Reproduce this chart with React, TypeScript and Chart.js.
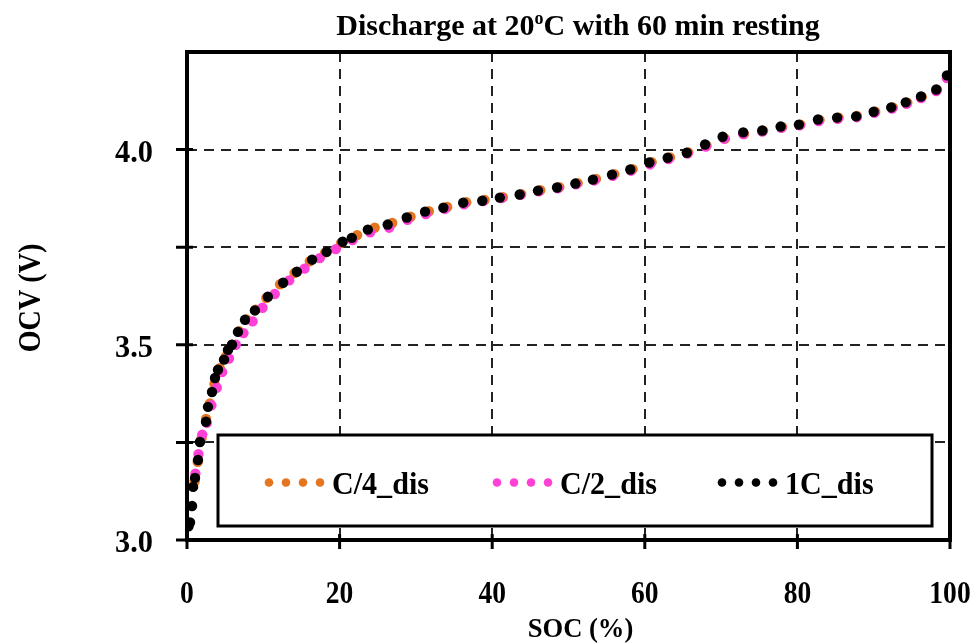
import React, { useEffect, useRef } from "react";
import { Chart, registerables } from "chart.js";

Chart.register(...registerables);

// ---------- data ----------
const socC4 = [1.0, 1.4, 1.9, 2.5, 3.0, 3.6, 4.3, 5.1, 5.9, 6.8, 7.8, 9.0, 10.4, 12.2, 14.1, 16.1, 18.1, 20.2, 22.3, 24.6, 26.9, 29.3, 31.7, 34.1, 36.6, 39.0, 41.4, 43.8, 46.3, 48.8, 51.2, 53.6, 56.0, 58.4, 60.9, 63.3, 65.7, 68.1, 70.5, 73.0, 75.5, 78.0, 80.4, 82.9, 85.4, 87.8, 90.2, 92.5, 94.4, 96.3, 98.3, 99.7];
const ocvC4 = [3.15, 3.2, 3.26, 3.31, 3.35, 3.4, 3.44, 3.47, 3.5, 3.535, 3.565, 3.59, 3.62, 3.655, 3.684, 3.714, 3.736, 3.761, 3.781, 3.8, 3.812, 3.828, 3.842, 3.853, 3.865, 3.871, 3.878, 3.886, 3.896, 3.904, 3.914, 3.925, 3.937, 3.95, 3.968, 3.98, 3.993, 4.01, 4.028, 4.04, 4.048, 4.058, 4.064, 4.076, 4.082, 4.086, 4.097, 4.108, 4.12, 4.135, 4.153, 4.185];

const socC2 = [1.1, 1.5, 2.0, 2.6, 3.2, 3.9, 4.6, 5.5, 6.4, 7.4, 8.6, 9.9, 11.5, 13.4, 15.4, 17.4, 19.5, 21.7, 24.0, 26.5, 28.9, 31.3, 33.8, 36.3, 38.8, 41.2, 43.7, 46.1, 48.6, 51.0, 53.4, 55.8, 58.2, 60.7, 63.1, 65.6, 68.0, 70.4, 72.9, 75.4, 77.9, 80.3, 82.8, 85.3, 87.8, 90.1, 92.4, 94.3, 96.2, 98.2, 99.6];
const ocvC2 = [3.17, 3.22, 3.27, 3.3, 3.345, 3.39, 3.43, 3.465, 3.5, 3.53, 3.56, 3.595, 3.63, 3.665, 3.695, 3.722, 3.745, 3.768, 3.788, 3.8, 3.82, 3.835, 3.848, 3.86, 3.868, 3.876, 3.884, 3.893, 3.901, 3.911, 3.921, 3.933, 3.946, 3.962, 3.976, 3.99, 4.008, 4.028, 4.04, 4.046, 4.056, 4.062, 4.073, 4.079, 4.083, 4.094, 4.105, 4.117, 4.132, 4.15, 4.183];

const soc1C = [0.2, 0.4, 0.66, 0.8, 1.05, 1.44, 1.7, 2.49, 2.75, 3.28, 3.67, 4.06, 4.85, 5.37, 5.9, 6.68, 7.6, 8.9, 10.6, 12.6, 14.4, 16.4, 18.3, 20.4, 21.6, 23.7, 26.3, 28.8, 31.2, 33.6, 36.2, 38.7, 41.0, 43.6, 46.0, 48.5, 50.9, 53.2, 55.7, 58.1, 60.6, 63.0, 65.5, 67.9, 70.2, 72.9, 75.4, 77.8, 80.2, 82.7, 85.2, 87.7, 90.0, 92.3, 94.2, 96.2, 98.2, 99.6];
const ocv1C = [3.035, 3.045, 3.087, 3.136, 3.159, 3.205, 3.251, 3.303, 3.341, 3.379, 3.415, 3.436, 3.462, 3.487, 3.5, 3.533, 3.564, 3.588, 3.623, 3.659, 3.687, 3.718, 3.738, 3.764, 3.774, 3.795, 3.808, 3.826, 3.841, 3.851, 3.864, 3.869, 3.877, 3.885, 3.895, 3.903, 3.913, 3.923, 3.936, 3.949, 3.967, 3.979, 3.992, 4.013, 4.033, 4.044, 4.049, 4.059, 4.064, 4.077, 4.082, 4.085, 4.097, 4.108, 4.121, 4.136, 4.154, 4.19];

const seriesNames = ["C/4_dis", "C/2_dis", "1C_dis"];
const seriesColors = ["#E5761F", "#FF40D6", "#000000"];

const xTickValues = [0, 20, 40, 60, 80, 100];
const xTickLabels = ["0", "20", "40", "60", "80", "100"];
const yGridValues = [3.0, 3.25, 3.5, 3.75, 4.0];
const yTickValues = [3.0, 3.5, 4.0];
const yTickLabels = ["3.0", "3.5", "4.0"];

const titleMain = "Discharge at 20";
const titleSup = "o";
const titleRest = "C with 60 min resting";
const xAxisTitle = "SOC (%)";
const yAxisTitle = "OCV (V)";

// ---------- helpers ----------
const SERIF = '"Liberation Serif", "Times New Roman", serif';

function pairs(xs: number[], ys: number[]) {
  return xs.map((x, i) => ({ x, y: ys[i] }));
}

function drawText(
  ctx: CanvasRenderingContext2D,
  s: string,
  x: number,
  y: number,
  size: number,
  align: CanvasTextAlign,
  sx = 1,
  rot = 0
) {
  ctx.save();
  ctx.translate(x, y);
  if (rot) ctx.rotate(rot);
  ctx.scale(sx, 1);
  ctx.font = `bold ${size}px ${SERIF}`;
  ctx.textAlign = align;
  ctx.textBaseline = "alphabetic";
  ctx.fillStyle = "#000";
  ctx.fillText(s, 0, 0);
  ctx.restore();
}

const decorPlugin = {
  id: "decor",
  afterDraw(chart: any) {
    const ctx: CanvasRenderingContext2D = chart.ctx;
    const ca = chart.chartArea;
    const xs = chart.scales.x;
    const ys = chart.scales.y;

    // legend box
    const lx = ca.left + 31;
    const lr = ca.right - 18;
    const lb = ca.bottom - 14;
    const lt = lb - 91;
    ctx.save();
    ctx.fillStyle = "#fff";
    ctx.fillRect(lx, lt, lr - lx, lb - lt);
    ctx.lineWidth = 3;
    ctx.strokeStyle = "#000";
    ctx.strokeRect(lx, lt, lr - lx, lb - lt);
    const cy = (lt + lb) / 2 + 2;
    const starts = [lx + 51, lx + 279, lx + 504];
    seriesNames.forEach((name, i) => {
      ctx.fillStyle = seriesColors[i];
      for (let k = 0; k < 4; k++) {
        ctx.beginPath();
        ctx.arc(starts[i] + k * 17, cy, 4.3, 0, Math.PI * 2);
        ctx.fill();
      }
      drawText(ctx, name, starts[i] + 3 * 17 + 12, cy + 11, 32, "left", 0.94);
    });
    ctx.restore();

    // frame
    ctx.save();
    ctx.strokeStyle = "#000";
    ctx.lineWidth = 4;
    ctx.strokeRect(ca.left, ca.top, ca.right - ca.left, ca.bottom - ca.top);

    // tick marks
    ctx.lineWidth = 3;
    ctx.beginPath();
    yGridValues.forEach((v) => {
      const py = ys.getPixelForValue(v);
      ctx.moveTo(ca.left - 11, py);
      ctx.lineTo(ca.left + 6, py);
    });
    xTickValues.forEach((v) => {
      const px = xs.getPixelForValue(v);
      ctx.moveTo(px, ca.bottom - 6);
      ctx.lineTo(px, ca.bottom + 9);
    });
    ctx.stroke();
    ctx.restore();

    // tick labels
    yTickValues.forEach((v, i) => {
      const py = ys.getPixelForValue(v);
      drawText(ctx, yTickLabels[i], ca.left - 34, py + 12, 32, "right", 0.95);
    });
    xTickValues.forEach((v, i) => {
      const px = xs.getPixelForValue(v);
      drawText(ctx, xTickLabels[i], px, ca.bottom + 63, 32, "center", 0.86);
    });

    // axis titles
    drawText(ctx, xAxisTitle, (ca.left + ca.right) / 2 + 12, ca.bottom + 97, 28, "center", 0.95);
    drawText(ctx, yAxisTitle, 40, 298, 32, "center", 0.88, -Math.PI / 2);

    // title with superscript
    ctx.save();
    ctx.font = `bold 30px ${SERIF}`;
    const w1 = ctx.measureText(titleMain).width;
    const w3 = ctx.measureText(titleRest).width;
    ctx.font = `bold 18px ${SERIF}`;
    const w2 = ctx.measureText(titleSup).width;
    ctx.restore();
    const total = w1 + w2 + w3;
    const tx = 578 - total / 2;
    const tb = 35;
    drawText(ctx, titleMain, tx, tb, 30, "left");
    drawText(ctx, titleSup, tx + w1, tb - 11, 18, "left");
    drawText(ctx, titleRest, tx + w1 + w2, tb, 30, "left");
  },
};

export default function App() {
  const ref = useRef<HTMLCanvasElement | null>(null);

  useEffect(() => {
    if (!ref.current) return;
    const gridOpts = {
      color: "#222",
      lineWidth: 2,
      drawTicks: false,
    };
    const mk = (i: number, xs: number[], ys: number[], order: number) => ({
      label: seriesNames[i],
      data: pairs(xs, ys),
      backgroundColor: seriesColors[i],
      borderColor: seriesColors[i],
      pointRadius: 5.2,
      pointBorderWidth: 0,
      showLine: false,
      order,
    });
    const chart = new Chart(ref.current, {
      type: "scatter",
      data: {
        datasets: [
          mk(0, socC4, ocvC4, 2),
          mk(1, socC2, ocvC2, 1),
          mk(2, soc1C, ocv1C, 0),
        ],
      },
      options: {
        animation: false,
        responsive: false,
        devicePixelRatio: 1,
        events: [],
        layout: { padding: { left: 0, top: 52, right: 22, bottom: 0 } },
        plugins: {
          legend: { display: false },
          title: { display: false },
          tooltip: { enabled: false },
        },
        scales: {
          x: {
            type: "linear",
            min: 0,
            max: 100,
            ticks: { display: false, stepSize: 20 },
            grid: gridOpts,
            border: { display: false, dash: [10, 7] },
            afterFit: (s: any) => {
              s.height = 104;
            },
          },
          y: {
            type: "linear",
            min: 3.0,
            max: 4.25,
            ticks: { display: false, stepSize: 0.25 },
            grid: gridOpts,
            border: { display: false, dash: [10, 7] },
            afterFit: (s: any) => {
              s.width = 187;
            },
          },
        },
      },
      plugins: [decorPlugin],
    } as any);
    return () => chart.destroy();
  }, []);

  return (
    <div style={{ position: "fixed", left: 0, top: 0, width: 972, height: 644, background: "#fff" }}>
      <canvas ref={ref} width={972} height={644} style={{ width: 972, height: 644, display: "block" }} />
    </div>
  );
}
